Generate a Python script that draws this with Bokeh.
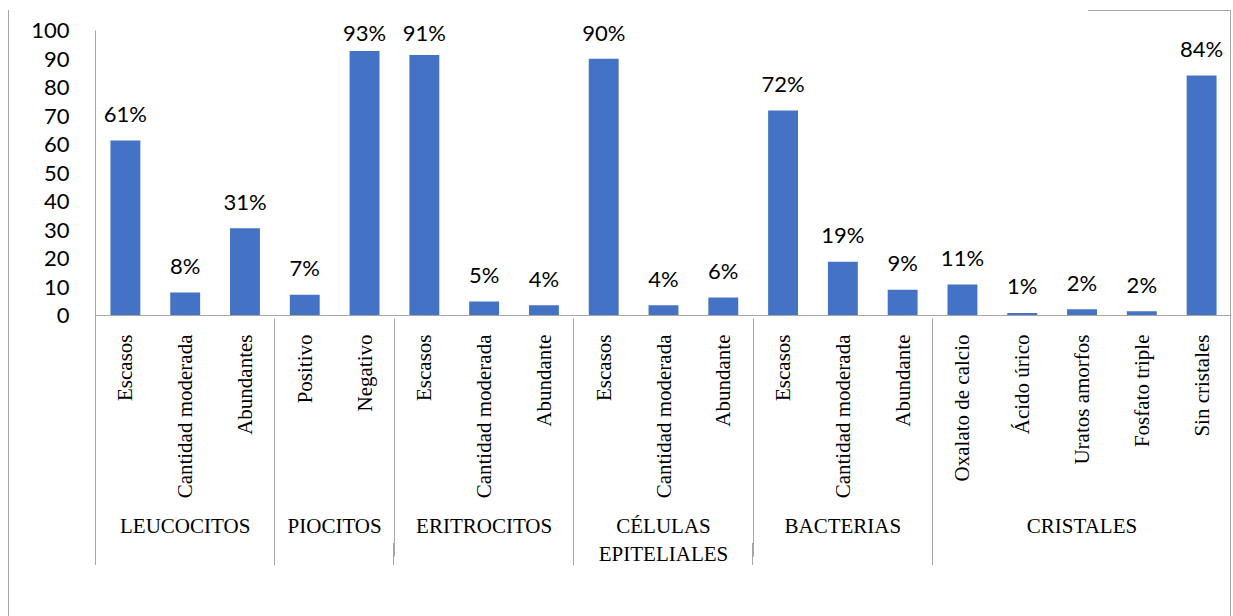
import math
import numpy as np
from bokeh.plotting import figure
from bokeh.models import FactorRange, Range1d, FixedTicker, ColumnDataSource, InlineStyleSheet
from bokeh.core.properties import value
from bokeh.embed import file_html
from bokeh.resources import INLINE

# ---- data ----
groups = ["LEUCOCITOS", "PIOCITOS", "ERITROCITOS", "CÉLULAS\nEPITELIALES", "BACTERIAS", "CRISTALES"]
subcategories = [
    ["Escasos", "Cantidad moderada", "Abundantes"],
    ["Positivo", "Negativo"],
    ["Escasos", "Cantidad moderada", "Abundante"],
    ["Escasos", "Cantidad moderada", "Abundante"],
    ["Escasos", "Cantidad moderada", "Abundante"],
    ["Oxalato de calcio", "Ácido úrico", "Uratos amorfos", "Fosfato triple", "Sin cristales"],
]
values = [61.4, 8.1, 30.6, 7.3, 92.8, 91.4, 4.9, 3.6, 90.1, 3.6, 6.3, 71.9, 18.9, 9.0, 10.9, 0.9, 2.2, 1.5, 84.2]
labels = ["61%", "8%", "31%", "7%", "93%", "91%", "5%", "4%", "90%", "4%", "6%", "72%", "19%", "9%", "11%", "1%", "2%", "2%", "84%"]
y_ticks = [0, 10, 20, 30, 40, 50, 60, 70, 80, 90, 100]

factors = [(g, s) for g, subs in zip(groups, subcategories) for s in subs]

BAR = "#4472C4"
GREY = "#a6a6a6"

W, H = 1233, 616
left_b, right_b, top_b, bottom_b = 95, 2, 15, 301
frame_w = W - left_b - right_b
frame_h = H - top_b - bottom_b
px_per_unit = 285.0 / 100.0
y_top = frame_h / px_per_unit

# pixel x of every group boundary (the first one is the left edge of the category axis)
step = frame_w / len(factors)
bounds_px = [left_b]
n = 0
for subs in subcategories[:-1]:
    n += len(subs)
    bounds_px.append(int(left_b + n * step))

# chart-area border plus full-length group separators below the axis (decoration)
layers = [("1px 606px", "8px 10px"), ("1px 606px", "1230px 10px"), ("143px 1px", "1088px 10px"),
          ("1px 250px", f"{bounds_px[0]}px 315px")]
for bx in bounds_px[1:]:
    layers.append(("1px 22px", f"{bx}px 543px"))
grad = ", ".join([f"linear-gradient({GREY},{GREY})"] * len(layers))
sizes = ", ".join(s for s, _ in layers)
poss = ", ".join(q for _, q in layers)
deco = InlineStyleSheet(css=f"""
:host {{ position: relative; }}
:host::after {{
  content: ""; position: absolute; left: 0; top: 0; width: {W}px; height: {H}px;
  pointer-events: none;
  background-image: {grad};
  background-repeat: no-repeat;
  background-size: {sizes};
  background-position: {poss};
}}
""")

p = figure(width=W, height=H, output_backend="svg", toolbar_location=None,
           x_range=FactorRange(*factors, factor_padding=0, group_padding=0, subgroup_padding=0, range_padding=0),
           y_range=Range1d(0, y_top),
           min_border_left=left_b, min_border_right=right_b,
           min_border_top=top_b, min_border_bottom=bottom_b)
p.stylesheets = [deco]
p.outline_line_color = None
p.grid.grid_line_color = None
p.background_fill_color = "white"
p.border_fill_color = "white"

src = ColumnDataSource(dict(x=factors, top=values, lab=labels,
                            ly=list(np.minimum(np.array(values), 90.0))))
p.vbar(x="x", top="top", width=0.5, source=src, fill_color=BAR, line_color=None)
p.text(x="x", y="ly", text="lab", source=src, text_align="center", text_baseline="alphabetic",
       y_offset=-27, text_font=value("Lato"), text_font_size="22px", text_color="#000000")

# y axis
ya = p.yaxis[0]
ya.ticker = FixedTicker(ticks=y_ticks)
ya.bounds = (0, 100)
ya.axis_line_color = GREY
ya.major_tick_line_color = None
ya.minor_tick_line_color = None
ya.major_label_text_font = "Lato"
ya.major_label_text_font_size = "22px"
ya.major_label_text_color = "#000000"
ya.major_label_standoff = 20

# x axis (two-level categories)
xa = p.xaxis[0]
xa.axis_line_color = GREY
xa.major_tick_line_color = None
xa.minor_tick_line_color = None
xa.major_label_orientation = math.pi / 2
xa.major_label_text_font = "Liberation Serif"
xa.major_label_text_font_size = "21px"
xa.major_label_text_color = "#000000"
xa.major_label_standoff = 13
xa.group_text_font = "Liberation Serif"
xa.group_text_font_size = "21px"
xa.group_text_font_style = "normal"
xa.group_text_color = "#000000"
xa.group_text_line_height = 1.15
xa.group_label_orientation = "horizontal"
xa.separator_line_color = GREY
xa.separator_line_width = 1

open("out.html", "w").write(file_html(p, INLINE))
